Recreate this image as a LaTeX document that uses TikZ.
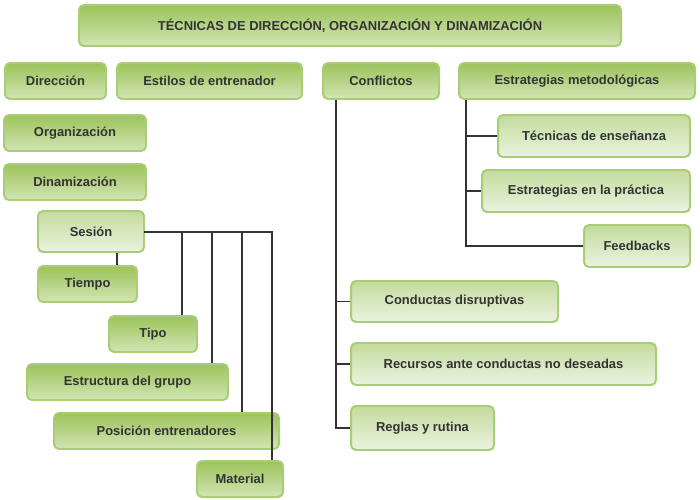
\documentclass[tikz,border=0pt]{standalone}
\usepackage{fontspec}
\setmainfont{Liberation Sans}
\definecolor{txt}{HTML}{333333}
\definecolor{dtop}{HTML}{9CC35A}
\definecolor{dbot}{HTML}{D2E5B5}
\definecolor{ltop}{HTML}{C3DB9C}
\definecolor{lbot}{HTML}{EBF3E0}
\definecolor{bord}{HTML}{A9CD77}
\tikzset{
 dk/.style={rounded corners=5pt, draw=bord, line width=2pt, top color=dtop, bottom color=dbot, text=txt, font=\bfseries\fontsize{13}{15}\selectfont, inner sep=0pt},
 lt/.style={rounded corners=5pt, draw=bord, line width=2pt, top color=ltop, bottom color=lbot, text=txt, font=\bfseries\fontsize{13}{15}\selectfont, inner sep=0pt},
 ln/.style={draw=black!80, line width=2pt}
}
\newcommand{\bx}[7]{\node[#6, minimum width=#4bp-#2bp, minimum height=#5bp-#3bp] (#1) at ({(#2+#4)/2*1bp},{-(#3+#5)/2*1bp}) {#7};}
\begin{document}
\begin{tikzpicture}[x=1bp,y=-1bp]
\useasboundingbox (0,0) rectangle (700,500);
\bx{t}{79}{5}{621}{46}{dk}{TÉCNICAS DE DIRECCIÓN, ORGANIZACIÓN Y DINAMIZACIÓN}
\bx{dir}{5}{63}{106}{99}{dk}{Dirección}
\bx{est}{117}{63}{302}{99}{dk}{Estilos de entrenador}
\bx{con}{323}{63}{439}{99}{dk}{Conflictos}
\bx{em}{459}{63}{695}{99}{dk}{Estrategias metodológicas}
\bx{org}{4}{115}{146}{151}{dk}{Organización}
\bx{din}{4}{164}{146}{200}{dk}{Dinamización}
\bx{ses}{38}{211}{144}{252}{lt}{Sesión}
\coordinate (sesr) at (144,232);
\bx{tie}{38}{266}{137}{302}{dk}{Tiempo}
\bx{tip}{109}{316}{197}{352}{dk}{Tipo}
\bx{estg}{27}{364}{228}{400}{dk}{Estructura del grupo}
\bx{pos}{54}{413}{279}{449}{dk}{Posición entrenadores}
\bx{mat}{197}{461}{283}{497}{dk}{Material}
\bx{te}{498}{115}{690}{157}{lt}{Técnicas de enseñanza}
\bx{ep}{482}{170}{690}{212}{lt}{Estrategias en la práctica}
\bx{fb}{584}{225}{690}{267}{lt}{Feedbacks}
\bx{cd}{351}{281}{558}{322}{lt}{Conductas disruptivas}
\bx{rc}{351}{343}{656}{385}{lt}{Recursos ante conductas no deseadas}
\bx{rr}{351}{406}{494}{450}{lt}{Reglas y rutina}
% connectors
\begin{scope}[on background layer/.style={}]
\draw[ln] (con.south -| 336,0) |- (rr.west);
\draw[ln] (336,0 |- cd.west) -- (cd.west);
\draw[ln] (336,0 |- rc.west) -- (rc.west);
\draw[ln] (em.south -| 466,0) |- (fb.west);
\draw[ln] (466,0 |- te.west) -- (te.west);
\draw[ln] (466,0 |- ep.west) -- (ep.west);
\draw[ln] (sesr) -- (272,232) -- (mat.north -| 272,0);
\draw[ln] (182,232) -- (tip.north -| 182,0);
\draw[ln] (212,232) -- (estg.north -| 212,0);
\draw[ln] (242,232) -- (pos.north -| 242,0);
\draw[ln] (ses.south -| 117,0) -- (tie.north -| 117,0);
\end{scope}
\end{tikzpicture}
\end{document}
